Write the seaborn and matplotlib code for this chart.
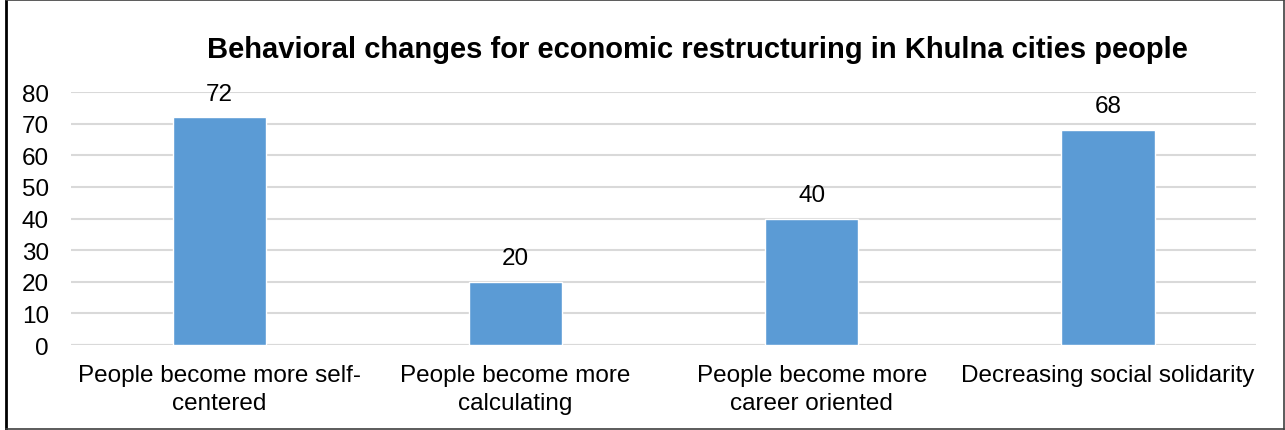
import matplotlib
matplotlib.use("Agg")
import matplotlib.pyplot as plt
import seaborn as sns
import pandas as pd
from matplotlib.lines import Line2D

categories = ["People become more self-\ncentered", "People become more\ncalculating",
              "People become more\ncareer oriented", "Decreasing social solidarity"]
values = [72, 20, 40, 68]
yticks = [0, 10, 20, 30, 40, 50, 60, 70, 80]
title = "Behavioral changes for economic restructuring in Khulna cities people"

sns.set_theme(style="white")
plt.rcParams['font.family'] = ['Liberation Sans', 'DejaVu Sans']
plt.rcParams['text.color'] = 'black'

df = pd.DataFrame({"cat": categories, "val": values})

fig = plt.figure(figsize=(12.85, 4.31), dpi=100)
ax = fig.add_axes([0.0553, 0.1972, 0.9222, 0.587])
sns.barplot(data=df, x="cat", y="val", color="#5b9bd5", width=0.315, ax=ax,
            saturation=1, zorder=3)
ax.set_xlim(-0.5, 3.5)
ax.set_ylim(0, 80)
ax.set_yticks(yticks)
ax.yaxis.grid(True, color="#d9d9d9", linewidth=1.5, zorder=0)
ax.set_axisbelow(True)
for s in ax.spines.values():
    s.set_visible(False)
ax.axhline(0, color="#d9d9d9", linewidth=1.5, zorder=1)
ax.set_xlabel("")
ax.set_ylabel("")
ax.tick_params(axis="both", length=0, labelsize=17.5, colors="black")
ax.tick_params(axis="y", pad=16)
ax.tick_params(axis="x", pad=14)
for lbl in ax.get_xticklabels():
    lbl.set_linespacing(1.3)
for c in ax.containers:
    ax.bar_label(c, fmt="%d", padding=9, fontsize=17.5, color="black")

fig.text(0.543, 0.885, title, ha="center", va="center", fontsize=21,
         fontweight="bold", color="black")

W, H = 1285, 431
fig.lines.append(Line2D([6/W, 6/W], [0, 1], transform=fig.transFigure, color="black", linewidth=2))
fig.lines.append(Line2D([6/W, 1284/W], [1 - 1/H, 1 - 1/H], transform=fig.transFigure, color="#404040", linewidth=1.2))
fig.lines.append(Line2D([1284/W, 1284/W], [0, 1], transform=fig.transFigure, color="#404040", linewidth=1.2))
fig.lines.append(Line2D([6/W, 1284/W], [1/H, 1/H], transform=fig.transFigure, color="#404040", linewidth=1.2))

fig.savefig("out.png", dpi=100)
